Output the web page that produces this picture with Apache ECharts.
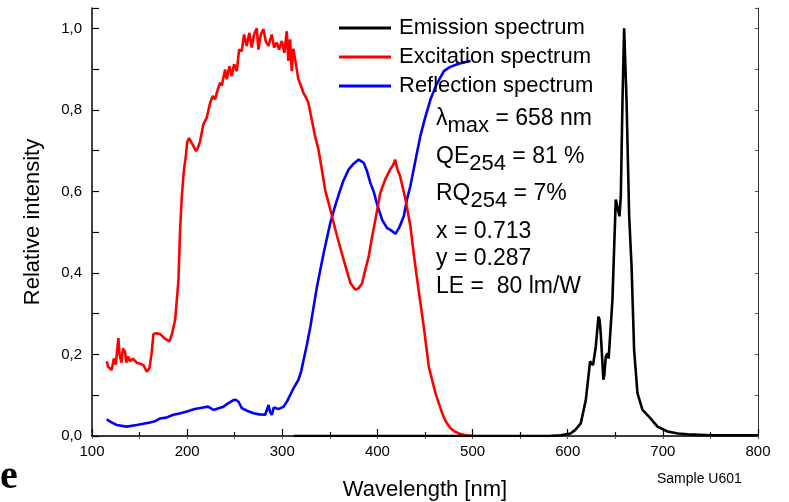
<!DOCTYPE html>
<html>
<head>
<meta charset="utf-8">
<script src="https://cdn.jsdelivr.net/npm/echarts@6/dist/echarts.min.js"></script>
<style>
html, body { margin: 0; padding: 0; background: #fff; }
#chart { width: 789px; height: 502px; }
</style>
</head>
<body>
<div id="chart"></div>
<script>
var seriesNames = ['Emission spectrum', 'Excitation spectrum', 'Reflection spectrum'];
var seriesColors = ['#000000', '#ff0000', '#0000ff'];

// [wavelength nm, relative intensity]
var emissionData = [
    [312, 0], [400, 0], [500, 0], [580, 0], [592.6, 0.002], [603, 0.006], [608, 0.015],
    [613.7, 0.031], [619, 0.088], [621.5, 0.14], [623.5, 0.183], [625, 0.185], [626.6, 0.174],
    [629.5, 0.219], [632.3, 0.293], [633.5, 0.285], [634.7, 0.252], [637.5, 0.138], [638.5, 0.15],
    [640, 0.195], [641.8, 0.203], [643, 0.19], [644.5, 0.191], [647, 0.334], [650.5, 0.58],
    [652.3, 0.584], [654.4, 0.539], [655.8, 0.588], [657.6, 0.826], [659.3, 1.0], [661.8, 0.826],
    [664.6, 0.539], [667.1, 0.416], [669.8, 0.211], [673.3, 0.105], [678.6, 0.064], [685.6, 0.047],
    [694.4, 0.023], [704.9, 0.011], [716, 0.006], [726, 0.004], [750.5, 0.002], [800, 0.002]
];
var excitationData = [
    [115.4, 0.183], [117, 0.17], [120.7, 0.162], [123, 0.19], [125, 0.175], [127.7, 0.24], [129, 0.2],
    [131, 0.18], [132.5, 0.215], [134.7, 0.207], [136, 0.18], [138, 0.195], [140, 0.183], [143, 0.19],
    [147, 0.18], [150, 0.178], [154, 0.174], [157.6, 0.158], [160.3, 0.166], [162.5, 0.2], [164.6, 0.25],
    [168, 0.252], [171.6, 0.25], [176, 0.24], [181.4, 0.232], [184, 0.25], [187.4, 0.285], [189, 0.33],
    [190.9, 0.383], [192.6, 0.506], [194.4, 0.588], [196.5, 0.65], [198.6, 0.686], [200, 0.72],
    [202, 0.731], [204.8, 0.719], [207, 0.71], [209.4, 0.699], [211, 0.705], [213.6, 0.723],
    [217, 0.764], [220.6, 0.781], [224.1, 0.817], [226.9, 0.834], [229.3, 0.826], [232.2, 0.85],
    [234.6, 0.867], [236.5, 0.86], [238.1, 0.879], [239.9, 0.899], [241.6, 0.875], [244.4, 0.907],
    [246.9, 0.883], [249.3, 0.912], [252.2, 0.895], [254.6, 0.948], [257.4, 0.944], [259.8, 0.985],
    [262.6, 0.957], [265.4, 0.989], [267.9, 0.953], [270.3, 0.985], [273.2, 1.0], [274.9, 0.948],
    [277.4, 0.985], [280.2, 0.998], [282.6, 0.969], [285.4, 0.957], [288.9, 0.985], [291.4, 0.953],
    [294.2, 0.965], [296.6, 0.948], [299.5, 0.969], [302.2, 0.94], [304.7, 0.993], [306.4, 0.92],
    [308.2, 0.973], [310, 0.895], [311.7, 0.95], [313.5, 0.924], [316.9, 0.875], [319.5, 0.86],
    [322.2, 0.842], [325, 0.83], [327.5, 0.817], [331, 0.776], [334.5, 0.735], [338, 0.703],
    [341.5, 0.655], [345, 0.604], [350.5, 0.555], [357.6, 0.49], [364.5, 0.432], [371.6, 0.375],
    [376.8, 0.359], [380, 0.362], [383.9, 0.375], [387.5, 0.41], [390.8, 0.44], [394.5, 0.49],
    [397.9, 0.531], [403, 0.596], [408.1, 0.629], [413.4, 0.654], [416.8, 0.666], [418.6, 0.678],
    [421, 0.654], [423.9, 0.637], [429.5, 0.58], [434.7, 0.514], [438, 0.45], [441.8, 0.383],
    [448.7, 0.268], [454, 0.17], [461, 0.105], [468, 0.056], [472, 0.035], [476.8, 0.019],
    [482, 0.01], [487, 0.005], [493, 0.002], [499.7, 0]
];
var reflectionData = [
    [115.4, 0.041], [120, 0.034], [126, 0.027], [136.5, 0.023], [147, 0.027], [154, 0.03], [161, 0.033],
    [166, 0.036], [171.6, 0.043], [178, 0.045], [185.6, 0.052], [192, 0.055], [199.7, 0.06], [208, 0.066],
    [217, 0.07], [222, 0.072], [227.7, 0.064], [233, 0.068], [238.2, 0.072], [243, 0.08], [248.7, 0.088],
    [251, 0.089], [254, 0.084], [257.6, 0.068], [263, 0.062], [269.8, 0.056], [276, 0.053], [282, 0.052],
    [285.6, 0.076], [287, 0.06], [289, 0.052], [291, 0.07], [292.6, 0.068], [296, 0.066], [301.4, 0.072],
    [305, 0.085], [308.4, 0.101], [312, 0.118], [317, 0.138], [320, 0.16], [322.4, 0.187], [326, 0.225],
    [329.5, 0.268], [336.5, 0.367], [343.5, 0.449], [350.5, 0.523], [355, 0.56], [359.3, 0.592],
    [364, 0.625], [369.8, 0.654], [375, 0.668], [380.3, 0.678], [385.6, 0.67], [389, 0.65], [392.6, 0.621],
    [396, 0.6], [399.7, 0.568], [405, 0.53], [410.2, 0.51], [414, 0.505], [419, 0.496], [423, 0.512],
    [427.7, 0.539], [431, 0.58], [434.5, 0.612], [439, 0.665], [445, 0.735], [450, 0.78], [455.8, 0.826],
    [462, 0.862], [469.8, 0.895], [476, 0.905], [483.9, 0.912], [490, 0.916], [497.9, 0.92]
];

// annotation lines: [main, subscript, rest]
var noteLines = [
    ['\u03bb', 'max', ' = 658 nm'],
    ['QE', '254', ' = 81 %'],
    ['RQ', '254', ' = 7%'],
    ['x = 0.713', '', ''],
    ['y = 0.287', '', ''],
    ['LE =  80 lm/W', '', '']
];
var noteTops = [107, 145, 182, 220, 247, 275];

var FONT = 'Liberation Sans, Arial, sans-serif';

var chart = echarts.init(document.getElementById('chart'));

function yLabel(v) {
    var k = Math.round(v * 10);
    if (Math.abs(v * 10 - k) > 0.01 || k % 2) return '';
    return (k / 10).toFixed(1).replace('.', ',');
}

var graphics = noteLines.map(function (l, i) {
    var txt = '{m|' + l[0] + '}';
    if (l[1]) txt += '{s|' + l[1] + '}';
    if (l[2]) txt += '{m|' + l[2] + '}';
    return {
        type: 'text', left: 436, top: noteTops[i], z: 10,
        style: {
            text: txt, fill: '#000', font: '23px ' + FONT,
            rich: {
                m: { fontSize: 23, fontFamily: FONT, lineHeight: 23, verticalAlign: 'top', fill: '#000' },
                s: { fontSize: 22, fontFamily: FONT, lineHeight: 37, fill: '#000' }
            }
        }
    };
});
graphics.push({
    type: 'text', left: 657, top: 472,
    style: { text: 'Sample U601', fill: '#000', font: '14px ' + FONT }
});
graphics.push({
    type: 'text', left: 0, top: 458,
    style: { text: 'e', fill: '#000', font: 'bold 40px Liberation Serif, Times New Roman, serif' }
});

var option = {
    animation: false,
    backgroundColor: '#fff',
    grid: { left: 92, right: 31, top: 8, bottom: 66, outerBoundsMode: 'none', containLabel: false },
    legend: {
        orient: 'vertical', left: 334, top: 12, itemGap: 7,
        itemWidth: 52, itemHeight: 3, icon: 'rect',
        data: seriesNames,
        textStyle: { fontSize: 22, fontFamily: FONT, color: '#000', padding: [0, 0, 0, 3] }
    },
    graphic: graphics,
    xAxis: [{
        type: 'value', min: 100, max: 800, interval: 100,
        name: 'Wavelength [nm]', nameLocation: 'middle', nameGap: 43,
        nameTextStyle: { fontSize: 22, fontFamily: FONT, color: '#000' },
        axisLine: { lineStyle: { color: '#000', width: 1.5 } },
        axisTick: { inside: true, length: 7, lineStyle: { color: '#000', width: 1.2 } },
        minorTick: { show: true, splitNumber: 2, length: 4, lineStyle: { color: '#000', width: 1.2 } },
        axisLabel: { fontSize: 15, fontFamily: FONT, color: '#000', margin: 8 },
        splitLine: { show: false }
    }, {
        type: 'value', position: 'top', min: 100, max: 800, interval: 50,
        axisLine: { show: true, lineStyle: { color: '#333', width: 1 } },
        axisTick: { inside: true, length: 3, lineStyle: { color: '#555' } },
        axisLabel: { show: false },
        splitLine: { show: false }
    }],
    yAxis: [{
        type: 'value', min: 0, max: 1.05, interval: 0.1,
        name: 'Relative intensity', nameLocation: 'middle', nameGap: 48,
        nameTextStyle: { fontSize: 22, fontFamily: FONT, color: '#000' },
        axisLine: { show: true, lineStyle: { color: '#000', width: 1.5 } },
        axisTick: { inside: true, length: 7, lineStyle: { color: '#000', width: 1.2 } },
        axisLabel: { fontSize: 15, fontFamily: FONT, color: '#000', margin: 10, formatter: yLabel },
        splitLine: { show: false }
    }, {
        type: 'value', position: 'right', min: 0, max: 1.05, interval: 0.1,
        axisLine: { show: true, lineStyle: { color: '#333', width: 1 } },
        axisTick: { inside: true, length: 3, lineStyle: { color: '#555' } },
        axisLabel: { show: false },
        splitLine: { show: false }
    }],
    series: [
        { name: seriesNames[0], data: emissionData },
        { name: seriesNames[1], data: excitationData },
        { name: seriesNames[2], data: reflectionData }
    ].map(function (s, i) {
        return {
            name: s.name, type: 'line', data: s.data,
            xAxisIndex: 0, yAxisIndex: 0,
            symbol: 'none', smooth: false,
            color: seriesColors[i],
            lineStyle: { color: seriesColors[i], width: 2.6 },
            z: 3 - i
        };
    })
};
chart.setOption(option);
</script>
</body>
</html>
